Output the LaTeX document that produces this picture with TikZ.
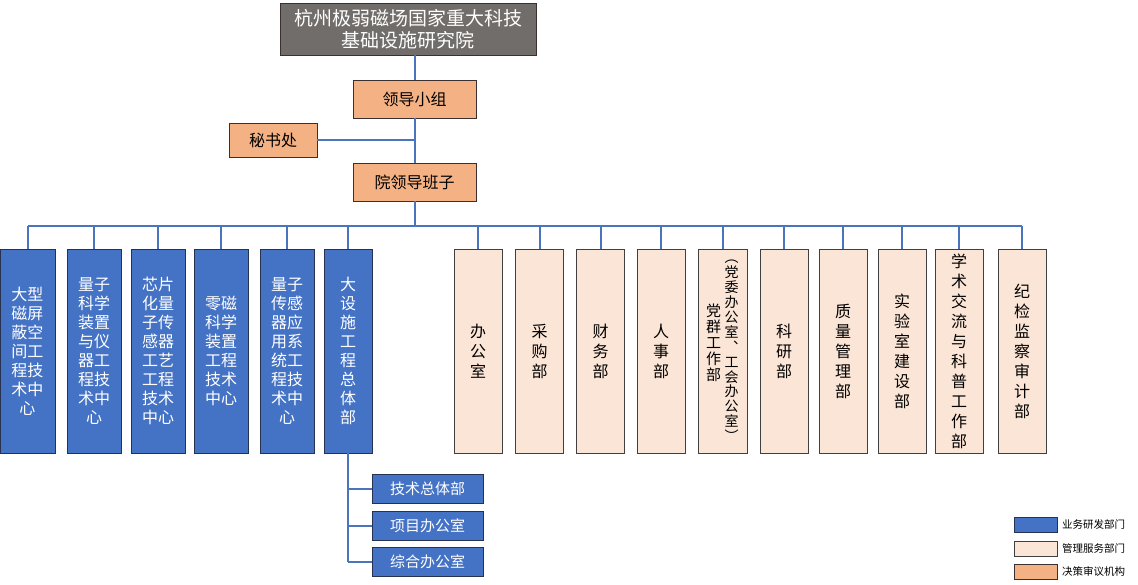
\documentclass[tikz,border=0pt]{standalone}
\usepackage{fontspec}
\setmainfont{Noto Sans CJK SC}
\usetikzlibrary{calc}
\definecolor{topgray}{HTML}{716D6A}
\definecolor{bluef}{HTML}{4472C4}
\definecolor{blued}{HTML}{26324F}
\definecolor{peach}{HTML}{FBE5D6}
\definecolor{peachd}{HTML}{404040}
\definecolor{orangef}{HTML}{F4B183}
\definecolor{oranged}{HTML}{3B2F2F}
\definecolor{linec}{HTML}{4A74BE}
\begin{document}
\begin{tikzpicture}[x=1pt,y=-1pt,
  box/.style={draw, line width=0.9pt, inner sep=0pt, align=center},
  bluebox/.style={box, fill=bluef, draw=blued, text=white, minimum height=204pt, font=\fontsize{16}{19}\selectfont},
  mgmt/.style={box, fill=peach, draw=peachd, minimum width=48pt, minimum height=204pt, font=\fontsize{16}{20}\selectfont},
  decision/.style={box, fill=orangef, draw=oranged, font=\fontsize{16}{20}\selectfont},
  subbox/.style={box, fill=bluef, draw=blued, text=white, minimum width=111pt, minimum height=29pt, font=\fontsize{15}{18}\selectfont},
  swatch/.style={box, minimum width=43pt, minimum height=15pt},
  legtext/.style={anchor=west, inner sep=0pt, font=\fontsize{10.5}{12}\selectfont},
  conn/.style={draw=linec, line width=2pt}]
\useasboundingbox (0,0) rectangle (1138,585);

% top
\node[box, fill=topgray, draw=oranged, text=white, minimum width=256pt, minimum height=52pt,
      font=\fontsize{19}{22}\selectfont] (top) at (408,29) {杭州极弱磁场国家重大科技\\基础设施研究院};
\node[decision, minimum width=123pt, minimum height=38pt] (lead) at (414.5,99) {领导小组};
\node[decision, minimum width=88pt, minimum height=34pt] (mishu) at (273,140) {秘书处};
\node[decision, minimum width=123pt, minimum height=38pt] (yuan) at (414.5,182) {院领导班子};
\coordinate (bus) at (414,226);

% blue boxes
\node[bluebox, minimum width=55pt] (b1) at (27.5,351) {大型\\磁屏\\蔽空\\间工\\程技\\术中\\心};
\node[bluebox, minimum width=54pt] (b2) at (94,351) {量子\\科学\\装置\\与仪\\器工\\程技\\术中\\心};
\node[bluebox, minimum width=54pt] (b3) at (158,351) {芯片\\化量\\子传\\感器\\工艺\\工程\\技术\\中心};
\node[bluebox, minimum width=54pt] (b4) at (221,351) {零磁\\科学\\装置\\工程\\技术\\中心};
\node[bluebox, minimum width=54pt] (b5) at (287,351) {量子\\传感\\器应\\用系\\统工\\程技\\术中\\心};
\node[bluebox, minimum width=48pt] (b6) at (348,351) {大\\设\\施\\工\\程\\总\\体\\部};

% management boxes
\node[mgmt] (m1) at (478,351) {办\\公\\室};
\node[mgmt] (m2) at (539.5,351) {采\\购\\部};
\node[mgmt] (m3) at (600.5,351) {财\\务\\部};
\node[mgmt] (m4) at (661,351) {人\\事\\部};
\node[mgmt, minimum width=49pt] (m5) at (722.5,351) {\raisebox{8pt}{\parbox[c]{16pt}{\centering\fontsize{15}{16}\selectfont 党\\群\\工\\作\\部}}\hspace{2pt}\parbox[c]{16pt}{\centering\fontsize{14}{14.9}\selectfont ︵\\党\\委\\办\\公\\室\\︑\\工\\会\\办\\公\\室\\︶}};
\node[mgmt] (m6) at (784,351) {科\\研\\部};
\node[mgmt] (m7) at (843,351) {质\\量\\管\\理\\部};
\node[mgmt] (m8) at (902,351) {实\\验\\室\\建\\设\\部};
\node[mgmt] (m9) at (959,351) {学\\术\\交\\流\\与\\科\\普\\工\\作\\部};
\node[mgmt] (m10) at (1022,351) {纪\\检\\监\\察\\审\\计\\部};

% sub boxes
\node[subbox] (s1) at (427.5,489) {技术总体部};
\node[subbox] (s2) at (427.5,525.5) {项目办公室};
\node[subbox] (s3) at (427.5,561.5) {综合办公室};

% legend
\node[swatch, fill=bluef, draw=blued] (l1) at (1035.5,524.5) {};
\node[swatch, fill=peach, draw=peachd] (l2) at (1035.5,548.5) {};
\node[swatch, fill=orangef, draw=oranged] (l3) at (1035.5,571.5) {};
\node[legtext] (t1) at (1062,524.5) {业务研发部门};
\node[legtext] (t2) at (1062,548.5) {管理服务部门};
\node[legtext] (t3) at (1062,571.5) {决策审议机构};

% connectors
\draw[conn] (lead.north) -- (lead.north |- top.south);
\draw[conn] (lead.south) -- (yuan.north);
\draw[conn] (mishu.east) -- (mishu.east -| lead.south);
\draw[conn] (yuan.south) -- (yuan.south |- bus);
\draw[conn] (b1.north |- bus) -- (m10.north |- bus);
\foreach \n in {b1,b2,b3,b4,b5,b6,m1,m2,m3,m4,m5,m6,m7,m8,m9,m10}
  \draw[conn] (\n.north) -- (\n.north |- bus);
\draw[conn] (b6.south) -- (b6.south |- s3.west);
\foreach \n in {s1,s2,s3}
  \draw[conn] (b6.south |- \n.west) -- (\n.west);
\end{tikzpicture}
\end{document}
